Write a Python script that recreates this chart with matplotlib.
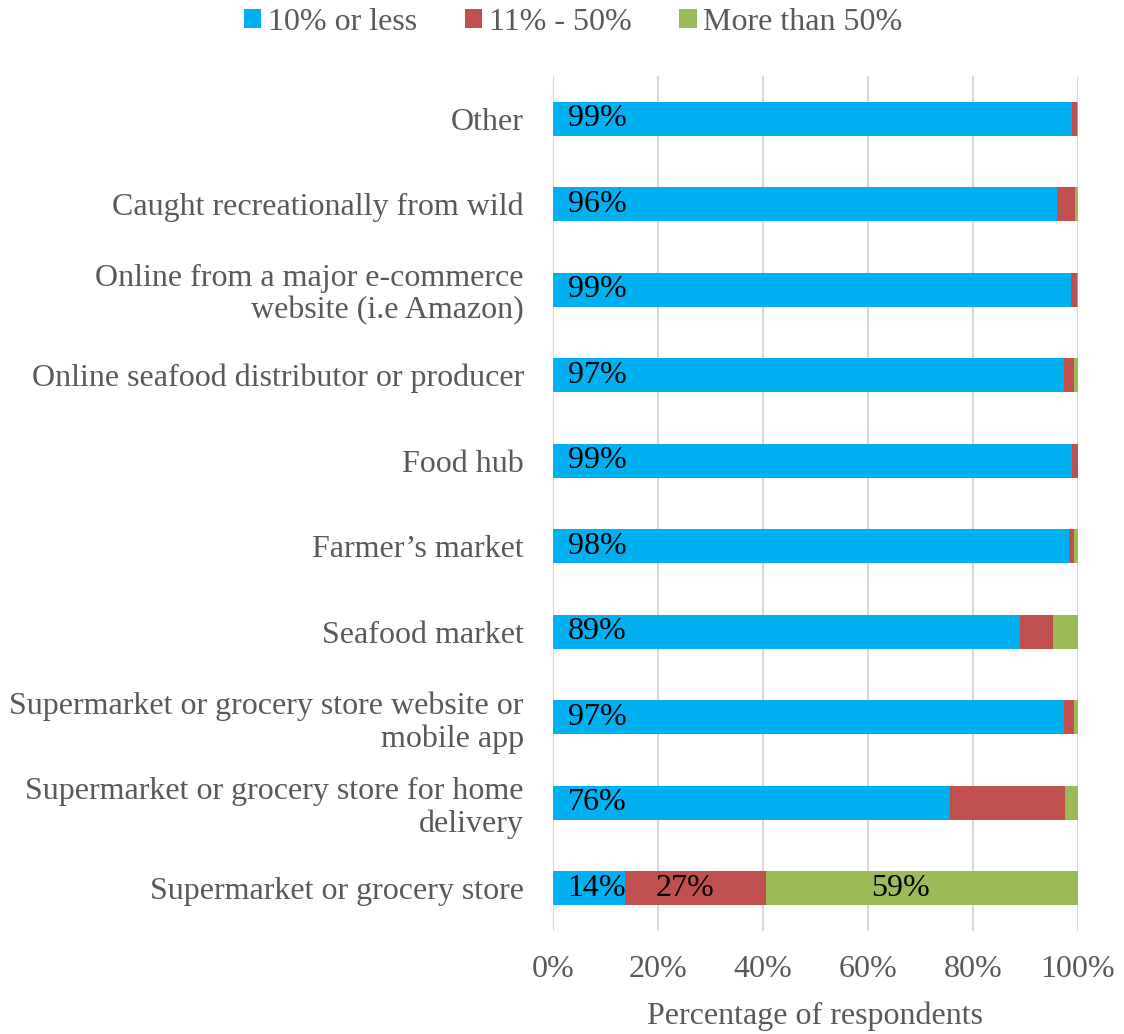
import matplotlib

matplotlib.use("Agg")
import matplotlib.pyplot as plt
import numpy as np

plt.rcParams["font.family"] = ["Liberation Serif", "DejaVu Serif"]

# categories top -> bottom as shown in the picture
categories = [
    "Other",
    "Caught recreationally from wild",
    "Online from a major e-commerce\nwebsite (i.e Amazon)",
    "Online seafood distributor or producer",
    "Food hub",
    "Farmer\u2019s market",
    "Seafood market",
    "Supermarket or grocery store website or\nmobile app",
    "Supermarket or grocery store for home\ndelivery",
    "Supermarket or grocery store",
]
low = [98.8, 96.1, 98.6, 97.3, 98.8, 98.3, 89.0, 97.3, 75.6, 13.65]
mid = [1.1, 3.4, 1.2, 2.0, 1.2, 0.9, 6.2, 2.0, 22.0, 26.9]
high = [0.1, 0.5, 0.2, 0.7, 0.0, 0.8, 4.8, 0.7, 2.4, 59.45]
series_names = ["10% or less", "11% - 50%", "More than 50%"]
colors = ["#00b0f0", "#c0504d", "#9bbb59"]
xticks = [0, 20, 40, 60, 80, 100]

gray = "#595959"
fs = 23
fig = plt.figure(figsize=(11.24, 10.34), dpi=100)
ax = fig.add_axes([0.492, 0.0996, 0.467, 0.827])

y = np.arange(len(categories))
left = np.zeros(len(categories))
for vals, name, c in zip([low, mid, high], series_names, colors):
    ax.barh(y, vals, left=left, height=0.4, color=c, label=name, zorder=3)
    left = left + np.array(vals)

# data labels: blue at inside base, the others only on the wide segments
for i, v in enumerate(low):
    ax.text(2.8, y[i], f"{v:.0f}%", ha="left", va="center", fontsize=fs, color="black", zorder=4)
for vals, starts in [(mid, np.array(low)), (high, np.array(low) + np.array(mid))]:
    for i, v in enumerate(vals):
        if v > 25:
            ax.text(starts[i] + v * 0.43, y[i], f"{v:.0f}%", ha="center", va="center",
                    fontsize=fs, color="black", zorder=4)

ax.set_xlim(0, 100)
ax.set_ylim(len(categories) - 0.5, -0.5)
ax.set_xticks(xticks)
ax.set_xticklabels([f"{t}%" for t in xticks])
ax.set_yticks(y)
ax.set_yticklabels(categories, ha="right", linespacing=1.15)
ax.tick_params(axis="both", length=0, labelsize=fs, colors=gray)
ax.tick_params(axis="y", pad=21)
ax.tick_params(axis="x", pad=17)
ax.grid(axis="x", color="#d9d9d9", linewidth=1.5, zorder=0)
for s in ax.spines.values():
    s.set_visible(False)
ax.set_xlabel("Percentage of respondents", fontsize=fs, color=gray, labelpad=13)

fig.legend(loc="upper center", bbox_to_anchor=(0.51, 1.02), ncol=3, frameon=False,
           fontsize=fs, labelcolor=gray, handlelength=0.55, handleheight=0.55,
           handletextpad=0.2, columnspacing=1.5)

fig.savefig("out.png", dpi=100)
